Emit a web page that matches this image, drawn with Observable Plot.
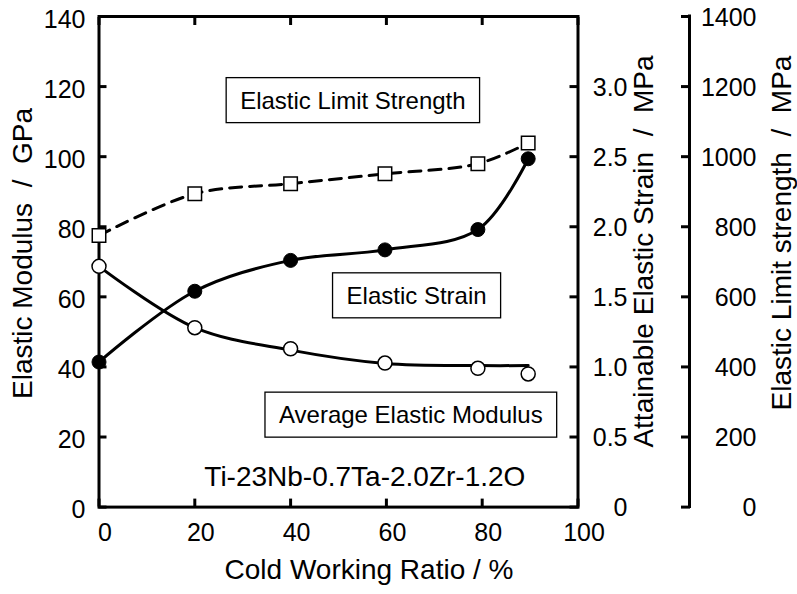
<!DOCTYPE html>
<html><head><meta charset="utf-8">
<script src="https://cdn.jsdelivr.net/npm/d3@7"></script>
<script src="https://cdn.jsdelivr.net/npm/@observablehq/plot@0.6"></script>
<style>body{margin:0;background:#fff;} svg{display:block}</style>
</head><body><div id="chart"></div>
<script>
// ---- data ----
const coldWorkingRatio = [0, 20, 40, 59.7, 79.1, 89.6];          // %
const elasticModulusGPa = [68.7, 51.2, 45.2, 41.1, 39.6, 38.0];   // open circles
const elasticStrainPct = [1.035, 1.54, 1.76, 1.835, 1.98, 2.485]; // filled circles
const elasticLimitMPa = [775, 894, 923, 951, 980, 1039];          // open squares
const modulusFitRatio = [0, 20, 40, 59.7, 79.1, 89.6];            // fitted curve for modulus
const modulusFitGPa = [68.7, 51.2, 44.8, 41.0, 40.4, 40.4];

// ---- ticks ----
const xTicks = [0, 20, 40, 60, 80, 100];
const xTickLabels = ["0", "20", "40", "60", "80", "100"];
const modulusTicks = [0, 20, 40, 60, 80, 100, 120, 140];
const modulusTickLabels = ["0", "20", "40", "60", "80", "100", "120", "140"];
const strainTicks = [0, 0.5, 1.0, 1.5, 2.0, 2.5, 3.0];
const strainTickLabels = ["0", "0.5", "1.0", "1.5", "2.0", "2.5", "3.0"];
const strengthTicks = [0, 200, 400, 600, 800, 1000, 1200, 1400];
const strengthTickLabels = ["0", "200", "400", "600", "800", "1000", "1200", "1400"];

// ---- annotations ----
const boxedLabels = ["Elastic Limit Strength", "Elastic Strain", "Average Elastic Modulus"];
const boxedLabelX = [53.0, 66.3, 65.1];
const boxedLabelY = [115.9, 60.2, 26.15];
const alloyLabel = ["Ti-23Nb-0.7Ta-2.0Zr-1.2O"];
const alloyLabelX = [55.5];
const alloyLabelY = [8.45];

// relations between the three vertical axes (shared scale in GPa units)
const GPA_PER_STRAIN = 40;   // 2.5 % <-> 100 GPa
const GPA_PER_MPA = 0.1;     // 1000 MPa <-> 100 GPa

const modulus = coldWorkingRatio.map((x, i) => ({x, y: elasticModulusGPa[i]}));
const strain = coldWorkingRatio.map((x, i) => ({x, y: elasticStrainPct[i] * GPA_PER_STRAIN}));
const strength = coldWorkingRatio.map((x, i) => ({x, y: elasticLimitMPa[i] * GPA_PER_MPA}));
const modulusFit = modulusFitRatio.map((x, i) => ({x, y: modulusFitGPa[i]}));
const boxed = boxedLabels.map((t, i) => ({t, x: boxedLabelX[i], y: boxedLabelY[i]}));
const alloy = alloyLabel.map((t, i) => ({t, x: alloyLabelX[i], y: alloyLabelY[i]}));

const NBSP = "\u00a0";
const FONT = "'Liberation Sans', Arial, sans-serif";

const chart = Plot.plot({
  width: 797,
  height: 594,
  marginLeft: 98.5,
  marginRight: 219.5,
  marginTop: 16,
  marginBottom: 87.4,
  x: {domain: [0, 100], axis: null},
  y: {domain: [0, 140], axis: null},
  style: {fontFamily: FONT, fontSize: "25px", color: "black", background: "white", overflow: "visible"},
  marks: [
    // frame + ticks (inward)
    Plot.frame({stroke: "black", strokeWidth: 3}),
    Plot.axisX({anchor: "bottom", ticks: xTicks, tickSize: -8, strokeWidth: 3, tickFormat: () => "", label: null}),
    Plot.axisX({anchor: "top", ticks: xTicks, tickSize: -8, strokeWidth: 3, tickFormat: () => "", label: null}),
    Plot.axisY({anchor: "left", ticks: modulusTicks, tickSize: -8, strokeWidth: 3, tickFormat: () => "", label: null}),
    Plot.axisY({anchor: "right", ticks: strainTicks.map(v => v * GPA_PER_STRAIN), tickSize: -9, strokeWidth: 3, tickFormat: () => "", label: null}),
    // third (strength) axis
    Plot.ruleX([100], {x: d => d, y1: 0, y2: 140, dx: 111.5, strokeWidth: 3, strokeLinecap: "square"}),
    Plot.axisY({anchor: "right", ticks: strengthTicks.map(v => v * GPA_PER_MPA), tickSize: -9, dx: 111.5, strokeWidth: 3, tickFormat: () => "", label: null}),

    // tick labels
    Plot.text(xTicks, {x: d => d, text: (d, i) => xTickLabels[i], frameAnchor: "bottom", dy: 33.4, dx: 6, fontSize: 25}),
    Plot.text(modulusTicks, {y: d => d, text: (d, i) => modulusTickLabels[i], frameAnchor: "left", textAnchor: "end", dx: -13.5, dy: 3, fontSize: 25}),
    Plot.text(strainTicks, {y: d => d * GPA_PER_STRAIN, text: (d, i) => strainTickLabels[i], frameAnchor: "right", textAnchor: "end", dx: 49.5, dy: 1, fontSize: 25}),
    Plot.text(strengthTicks, {y: d => d * GPA_PER_MPA, text: (d, i) => strengthTickLabels[i], frameAnchor: "right", textAnchor: "end", dx: 178.5, dy: 1, fontSize: 25}),

    // axis titles
    Plot.text([`Elastic Modulus${NBSP} /${NBSP} GPa`], {frameAnchor: "left", textAnchor: "middle", rotate: -90, dx: -76, dy: -8.3, fontSize: 28}),
    Plot.text([`Attainable Elastic Strain${NBSP} /${NBSP} MPa`], {frameAnchor: "right", textAnchor: "middle", rotate: -90, dx: 66.5, dy: -10.3, fontSize: 28}),
    Plot.text([`Elastic Limit strength${NBSP} /${NBSP} MPa`], {frameAnchor: "right", textAnchor: "middle", rotate: -90, dx: 204, dy: -28.8, fontSize: 28}),
    Plot.text(["Cold Working Ratio / %"], {frameAnchor: "bottom", textAnchor: "middle", dx: 30.5, dy: 71.5, fontSize: 28}),

    // curves
    Plot.line(strength, {x: "x", y: "y", curve: "catmull-rom", stroke: "black", strokeWidth: 3, strokeDasharray: "12,8"}),
    Plot.line(strain, {x: "x", y: "y", curve: "catmull-rom", stroke: "black", strokeWidth: 3}),
    Plot.line(modulusFit, {x: "x", y: "y", curve: "catmull-rom", stroke: "black", strokeWidth: 3}),

    // markers
    Plot.dot(strength, {x: "x", y: "y", symbol: "square", r: 7.6, fill: "white", stroke: "black", strokeWidth: 1.5}),
    Plot.dot(modulus, {x: "x", y: "y", r: 7, fill: "white", stroke: "black", strokeWidth: 1.5}),
    Plot.dot(strain, {x: "x", y: "y", r: 7, fill: "black", stroke: "black", strokeWidth: 1}),

    // annotations
    Plot.text(boxed, {x: "x", y: "y", text: "t", fontSize: 24}),
    Plot.text(alloy, {x: "x", y: "y", text: "t", fontSize: 28})
  ]
});

document.getElementById("chart").append(chart);

// draw a thin box behind each boxed label
chart.querySelectorAll("text").forEach(t => {
  if (!boxedLabels.includes(t.textContent)) return;
  const bb = t.getBBox();
  const r = document.createElementNS("http://www.w3.org/2000/svg", "rect");
  r.setAttribute("x", bb.x - 14);
  r.setAttribute("y", bb.y + bb.height / 2 - 22.5);
  r.setAttribute("width", bb.width + 28);
  r.setAttribute("height", 45);
  r.setAttribute("fill", "white");
  r.setAttribute("stroke", "black");
  r.setAttribute("stroke-width", 1.3);
  const tr = t.getAttribute("transform");
  if (tr) r.setAttribute("transform", tr);
  t.parentNode.insertBefore(r, t);
});
</script>
</body></html>
